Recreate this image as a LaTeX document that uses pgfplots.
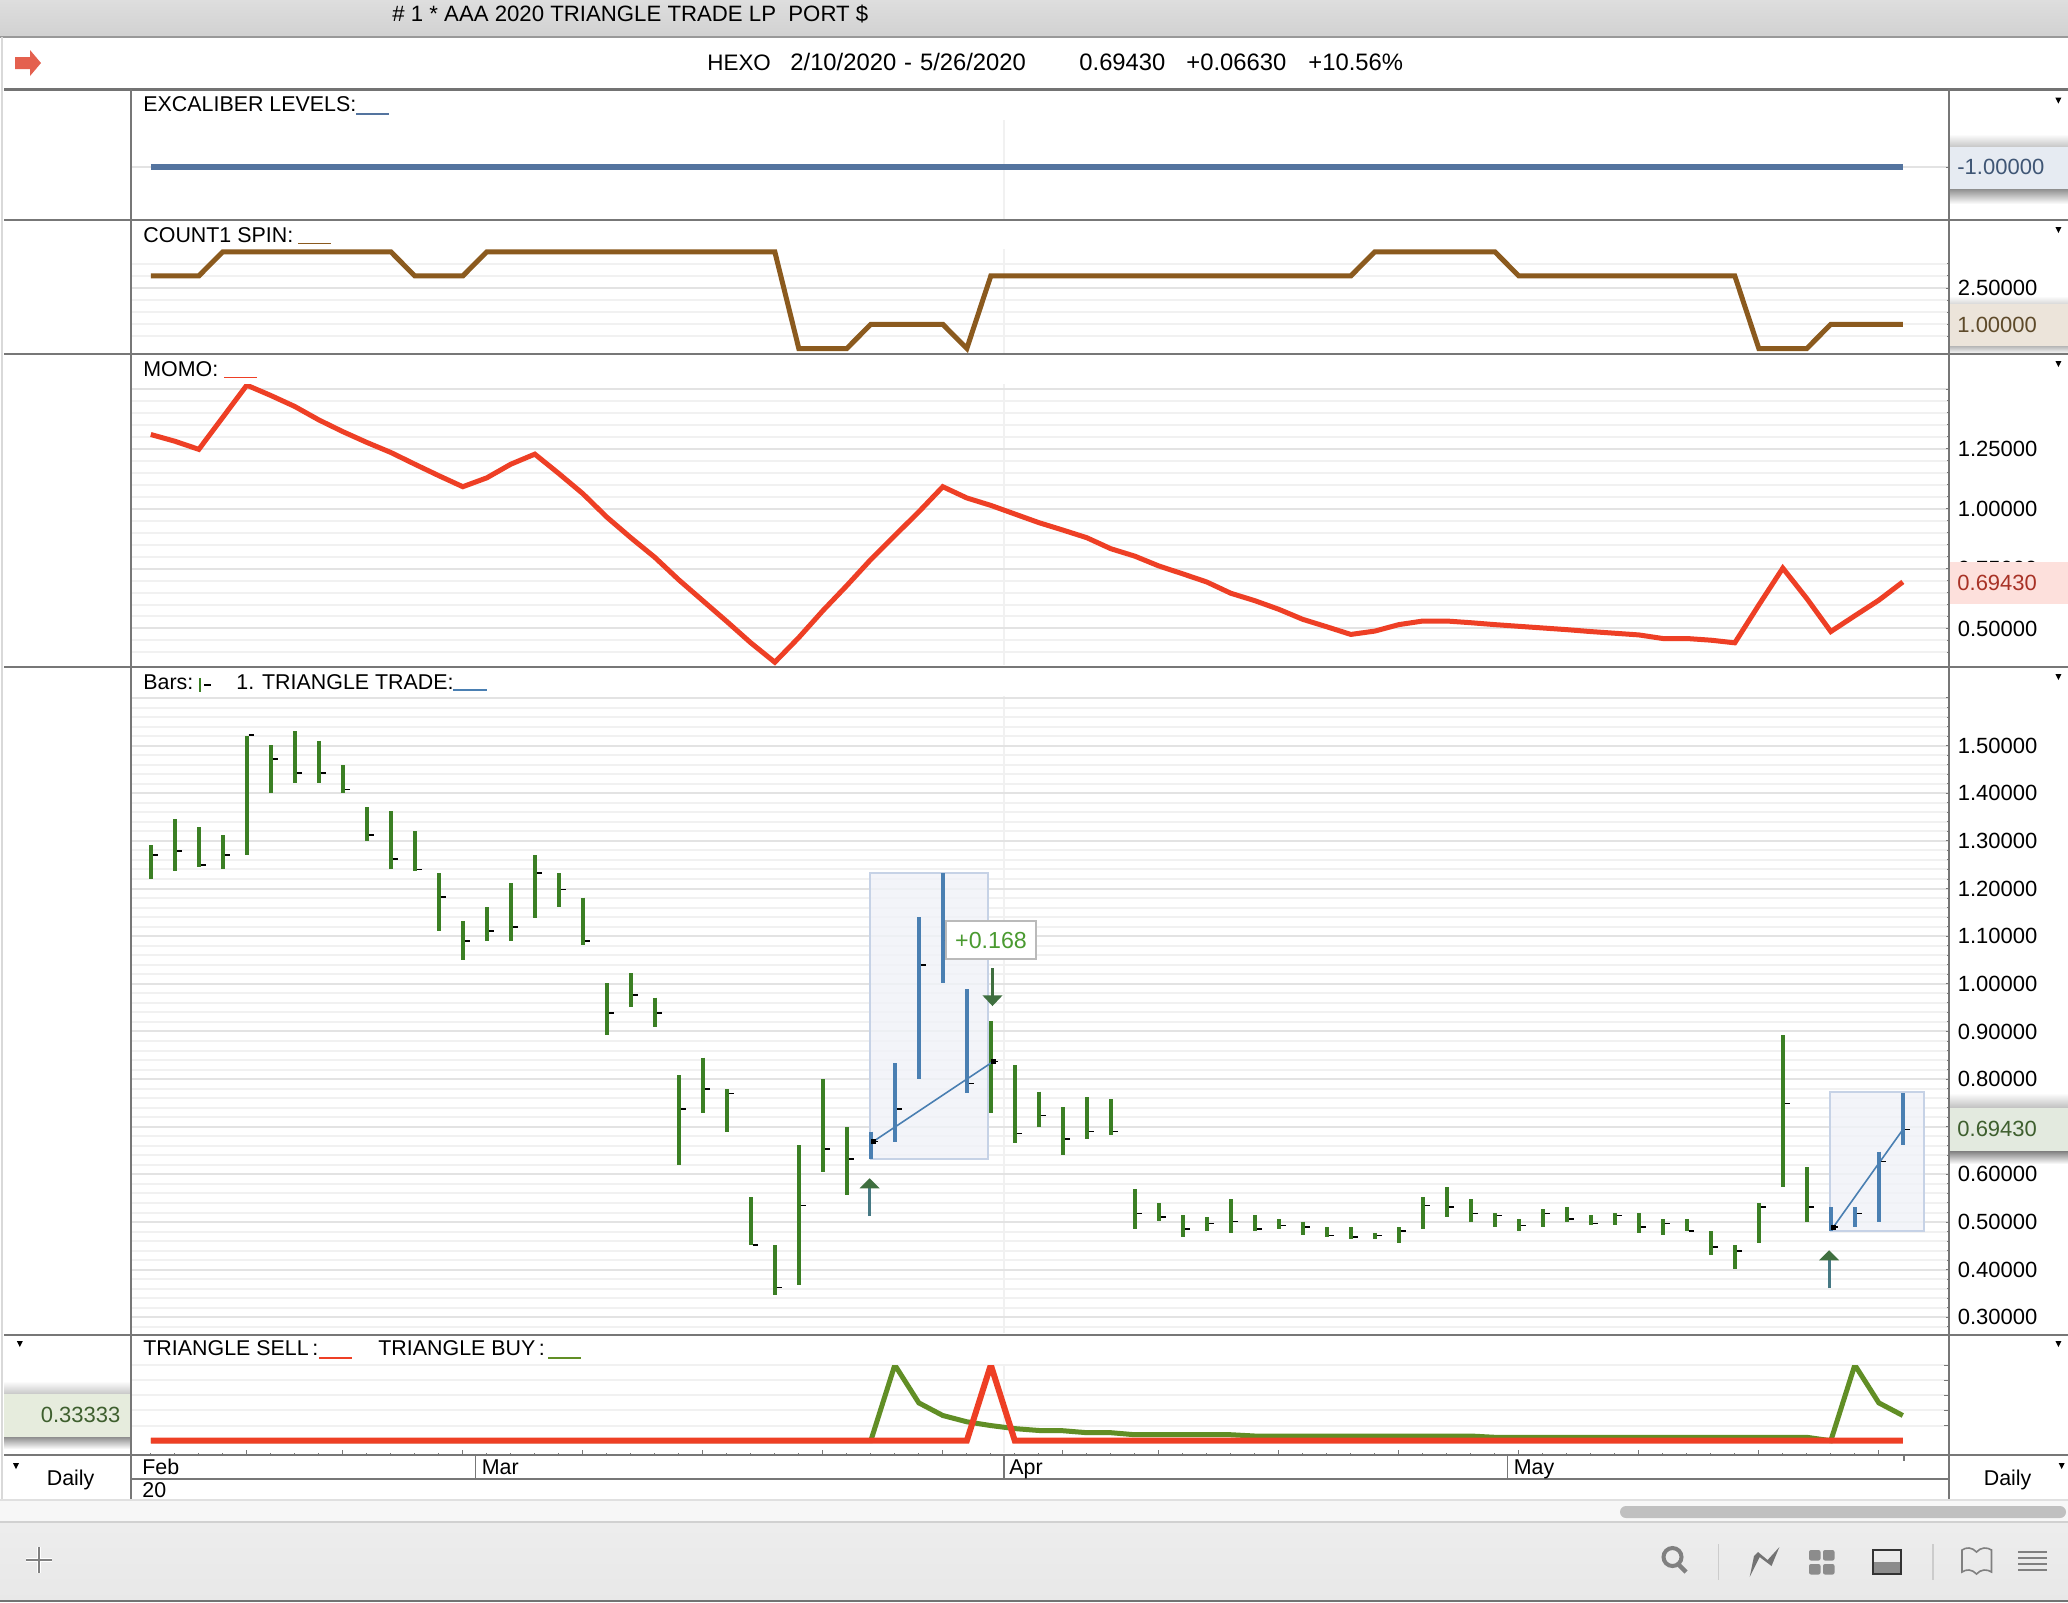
\documentclass[border=0pt]{standalone}
\usepackage{fontspec}
\setmainfont{Liberation Sans}
\usepackage{pgfplots}
\usepackage{pgfplotstable}
\pgfplotsset{compat=1.18}

\definecolor{gridmaj}{HTML}{E3E3E3}
\definecolor{gridmin}{HTML}{F1F1F1}
\definecolor{sep}{HTML}{777777}
\definecolor{lvlblue}{HTML}{54749F}
\definecolor{spinbrown}{HTML}{8B5A1E}
\definecolor{momored}{HTML}{EE3F25}
\definecolor{buygreen}{HTML}{618E25}
\definecolor{bargreen}{HTML}{3B7F24}
\definecolor{barblue}{HTML}{4A7FB2}
\definecolor{arrowgreen}{HTML}{3F6F3F}
\definecolor{regfill}{HTML}{F0F2F8}
\definecolor{regedge}{HTML}{C6D2E6}
\definecolor{boxblue}{HTML}{E6EBF2}
\definecolor{boxbrown}{HTML}{ECE4DA}
\definecolor{boxred}{HTML}{FDE0DC}
\definecolor{boxgreen}{HTML}{E3EADF}
\definecolor{boxgreenb}{HTML}{E6ECDD}
\definecolor{txtblue}{HTML}{3F5675}
\definecolor{txtbrown}{HTML}{5E4A2A}
\definecolor{txtred}{HTML}{A83226}
\definecolor{txtgreen}{HTML}{3E5F2E}
\definecolor{resultgreen}{HTML}{4A9A30}
\definecolor{iconred}{HTML}{E4604E}
\definecolor{scrollgray}{HTML}{C0C0C0}

% i = bar number, one bar per trading day from 2/10/2020
\pgfplotstableread{
i spin momo buy sell
0 3 1.310 0 0
1 3 1.282 0 0
2 3 1.248 0 0
3 4 1.382 0 0
4 4 1.516 0 0
5 4 1.473 0 0
6 4 1.427 0 0
7 4 1.371 0 0
8 4 1.322 0 0
9 4 1.277 0 0
10 4 1.235 0 0
11 3 1.186 0 0
12 3 1.138 0 0
13 3 1.092 0 0
14 4 1.129 0 0
15 4 1.186 0 0
16 4 1.228 0 0
17 4 1.147 0 0
18 4 1.063 0 0
19 4 0.965 0 0
20 4 0.879 0 0
21 4 0.797 0 0
22 4 0.703 0 0
23 4 0.616 0 0
24 4 0.529 0 0
25 4 0.440 0 0
26 4 0.359 0 0
27 0 0.462 0 0
28 0 0.574 0 0
29 0 0.679 0 0
30 1 0.788 0 0
31 1 0.888 1 0
32 1 0.987 0.5 0
33 1 1.092 0.333 0
34 0 1.045 0.25 0
35 3 1.014 0.2 1
36 3 0.978 0.16 0
37 3 0.942 0.135 0
38 3 0.911 0.132 0
39 3 0.879 0.106 0
40 3 0.833 0.106 0
41 3 0.802 0.079 0
42 3 0.761 0.079 0
43 3 0.728 0.079 0
44 3 0.694 0.079 0
45 3 0.647 0.079 0
46 3 0.616 0.062 0
47 3 0.580 0.062 0
48 3 0.538 0.062 0
49 3 0.507 0.062 0
50 3 0.475 0.062 0
51 4 0.489 0.062 0
52 4 0.516 0.062 0
53 4 0.531 0.062 0
54 4 0.531 0.062 0
55 4 0.524 0.062 0
56 4 0.516 0.045 0
57 3 0.509 0.045 0
58 3 0.502 0.045 0
59 3 0.495 0.045 0
60 3 0.487 0.045 0
61 3 0.480 0.045 0
62 3 0.473 0.045 0
63 3 0.458 0.045 0
64 3 0.458 0.045 0
65 3 0.451 0.045 0
66 3 0.440 0.045 0
67 0 0.598 0.045 0
68 0 0.752 0.045 0
69 0 0.625 0.045 0
70 1 0.487 0 0
71 1 0.553 1 0
72 1 0.618 0.5 0
73 1 0.6943 0.333 0
}\series

\pgfplotstableread{
i hi lo cl
0 1.291 1.219 1.270
1 1.345 1.236 1.279
2 1.329 1.245 1.249
3 1.312 1.240 1.270
4 1.521 1.270 1.522
5 1.501 1.400 1.472
6 1.530 1.421 1.443
7 1.510 1.421 1.443
8 1.459 1.400 1.408
9 1.371 1.300 1.312
10 1.362 1.240 1.262
11 1.320 1.236 1.240
12 1.232 1.110 1.182
13 1.132 1.051 1.090
14 1.161 1.090 1.111
15 1.211 1.090 1.119
16 1.270 1.139 1.233
17 1.232 1.161 1.198
18 1.181 1.081 1.090
19 1.001 0.892 0.939
20 1.022 0.951 0.977
21 0.971 0.909 0.939
22 0.808 0.619 0.737
23 0.845 0.728 0.779
24 0.779 0.690 0.770
25 0.552 0.451 0.452
26 0.451 0.346 0.363
27 0.661 0.367 0.535
28 0.800 0.606 0.653
29 0.699 0.556 0.632
35 0.921 0.728 0.837
36 0.829 0.665 0.686
37 0.774 0.699 0.724
38 0.741 0.640 0.674
39 0.762 0.674 0.690
40 0.758 0.682 0.690
41 0.569 0.485 0.518
42 0.539 0.502 0.510
43 0.514 0.468 0.485
44 0.510 0.481 0.497
45 0.548 0.476 0.501
46 0.514 0.481 0.485
47 0.506 0.485 0.493
48 0.501 0.472 0.489
49 0.489 0.468 0.472
50 0.489 0.464 0.468
51 0.476 0.464 0.472
52 0.489 0.455 0.481
53 0.552 0.485 0.535
54 0.573 0.510 0.531
55 0.548 0.501 0.518
56 0.518 0.489 0.514
57 0.506 0.481 0.493
58 0.527 0.489 0.518
59 0.531 0.501 0.506
60 0.514 0.493 0.497
61 0.518 0.493 0.514
62 0.518 0.476 0.489
63 0.506 0.472 0.497
64 0.506 0.481 0.481
65 0.481 0.430 0.447
66 0.451 0.401 0.439
67 0.539 0.455 0.531
68 0.892 0.573 0.749
69 0.615 0.501 0.531
}\greenbars

\pgfplotstableread{
i hi lo cl
30 0.690 0.632 0.669
31 0.833 0.669 0.737
32 1.140 0.800 1.039
33 1.232 1.001 1.090
34 0.989 0.770 0.791
70 0.531 0.481 0.489
71 0.531 0.489 0.518
72 0.648 0.501 0.627
73 0.770 0.661 0.694
}\bluebars

\newcommand{\f}{\fontsize{10.7}{12}\selectfont}
\newcommand{\fn}{\fontsize{11}{12}\selectfont}
\newcommand{\fh}{\fontsize{11.9}{12}\selectfont}
\pgfplotsset{
  panel/.style={
    scale only axis, width=909.2pt,
    xmin=-0.842, xmax=74.925,
    axis line style={draw=none},
    xtick=\empty,
    ytick pos=right, yticklabel pos=right,
    ymajorgrids, yminorgrids,
    major grid style={line width=1pt, draw=gridmaj},
    minor grid style={line width=1pt, draw=gridmin},
    major tick length=1.5pt, minor tick length=1pt,
    tick style={draw=sep, line width=0.5pt},
    yticklabel style={font=\fn, anchor=west, inner sep=0pt, xshift=4.2pt},
  },
  ohlc/.style={draw=none, mark=none, forget plot,
    error bars/.cd, y dir=minus, y explicit, error mark=none,
    error bar style={draw=#1, line width=2pt}},
  closetick/.style={draw=none, mark=none, forget plot,
    error bars/.cd, x dir=plus, x fixed=0.2, error mark=none,
    error bar style={draw=black, line width=0.8pt}},
}
\newcommand{\lab}[3]{\node[anchor=base west,inner sep=0pt,font=\f] at (#1,#2) {#3};}
\newcommand{\hlab}[2]{\node[anchor=base west,inner sep=0pt,font=\fh] at (#1,70.7) {#2};}
\newcommand{\boxval}[4]{\node[anchor=base west,inner sep=0pt,font=\fn,text=#3] at (#1,#2) {#4};}
\newcommand{\tri}[2]{\fill[black] (#1-3,#2-3) -- (#1+3,#2-3) -- (#1,#2+3) -- cycle;}

\begin{document}
\begin{tikzpicture}
\begin{scope}[x=0.5pt,y=-0.5pt]
  \fill[white] (0,0) rectangle (2068,1602);
  % title bar and bottom bar
  \shade[top color=black!13, bottom color=black!18] (0,0) rectangle (2068,37);
  \fill[black!3] (0,1500) rectangle (2068,1522);
  \shade[top color=black!7, bottom color=black!9] (0,1522) rectangle (2068,1601);
  % date grid line
  \foreach \a/\b in {120/219,249/353,384/665,696/1333,1365/1453}
    \draw[gridmin,line width=1pt] (1004,\a) -- (1004,\b);
\end{scope}

% EXCALIBER LEVELS
\begin{axis}[panel, at={(65.3pt,-44.65pt)}, anchor=north west, height=65.5pt,
  ymin=-1.533, ymax=-0.223, ytick={-1}, yticklabels={}]
  \addplot[lvlblue, line width=3pt] coordinates {(0,-1)(73,-1)};
\end{axis}

% COUNT1 SPIN
\begin{axis}[panel, at={(65.3pt,-110.15pt)}, anchor=north west, height=67pt,
  ymin=-0.24, ymax=5.30, ytick={2.5}, yticklabels={2.50000},
  minor ytick={0.5,1,1.5,2,3,3.5}]
  \addplot[spinbrown, line width=2.5pt] table[x=i,y=spin] {\series};
\end{axis}

% MOMO, the line is cut off at the top grid line
\begin{axis}[panel, at={(65.3pt,-192pt)}, anchor=north west, height=141.5pt,
  ymin=0.339, ymax=1.5209, ytick={0.5,0.75,1,1.25,1.5},
  yticklabels={0.50000,0.75000,1.00000,1.25000,},
  minor ytick={0.4,0.45,0.55,0.6,0.65,0.7,0.8,0.85,0.9,0.95,1.05,1.1,1.15,1.2,1.3,1.35,1.4,1.45}]
  \addplot[momored, line width=2.5pt] table[x=i,y=momo] {\series};
\end{axis}

% price bars
\begin{axis}[panel, at={(65.3pt,-333.5pt)}, anchor=north west, height=333.85pt,
  ymin=0.2635, ymax=1.665,
  ytick={0.3,0.4,0.5,0.6,0.7,0.8,0.9,1.0,1.1,1.2,1.3,1.4,1.5,1.6},
  yticklabels={0.30000,0.40000,0.50000,0.60000,0.70000,0.80000,0.90000,1.00000,1.10000,1.20000,1.30000,1.40000,1.50000,},
  minor ytick={0.28,0.32,0.34,0.36,0.38,0.42,0.44,0.46,0.48,0.52,0.54,0.56,0.58,0.62,0.64,0.66,0.68,0.72,0.74,0.76,0.78,0.82,0.84,0.86,0.88,0.92,0.94,0.96,0.98,1.02,1.04,1.06,1.08,1.12,1.14,1.16,1.18,1.22,1.24,1.26,1.28,1.32,1.34,1.36,1.38,1.42,1.44,1.46,1.48,1.52,1.54,1.56,1.58}]
  % trade regions
  \addplot[fill=regfill, fill opacity=0.8, draw=regedge, line width=1pt, forget plot]
    coordinates {(29.95,0.632)(29.95,1.233)(34.89,1.233)(34.89,0.632)(29.95,0.632)};
  \addplot[fill=regfill, fill opacity=0.8, draw=regedge, line width=1pt, forget plot]
    coordinates {(69.96,0.4805)(69.96,0.772)(73.9,0.772)(73.9,0.4805)(69.96,0.4805)};
  % high-low bars and closes
  \addplot[ohlc=bargreen] table[x=i,y=hi,y error expr=\thisrow{hi}-\thisrow{lo}] {\greenbars};
  \addplot[ohlc=barblue] table[x=i,y=hi,y error expr=\thisrow{hi}-\thisrow{lo}] {\bluebars};
  \addplot[closetick] table[x expr=\thisrow{i}+0.08,y=cl] {\greenbars};
  \addplot[closetick] table[x expr=\thisrow{i}+0.08,y=cl] {\bluebars};
  % trade lines
  \addplot[barblue, line width=0.8pt, mark=square*, mark size=0.9pt,
    mark options={black}] coordinates {(30.1,0.669)(35.1,0.837)};
  \addplot[barblue, line width=0.8pt, mark=square*, mark size=0.9pt, mark indices={1},
    mark options={black}] coordinates {(70.1,0.489)(73.0,0.694)};
  % entry and exit arrows
  \addplot[barblue!60!arrowgreen, line width=1.5pt] coordinates {(29.95,0.5126)(29.95,0.575)};
  \addplot[fill=arrowgreen, draw=none] coordinates {(29.53,0.5708)(29.95,0.5918)(30.37,0.5708)(29.53,0.5708)};
  \addplot[arrowgreen, line width=1.5pt] coordinates {(35.07,1.0326)(35.07,0.975)};
  \addplot[fill=arrowgreen, draw=none] coordinates {(34.65,0.9759)(35.07,0.9534)(35.49,0.9759)(34.65,0.9759)};
  \addplot[barblue!60!arrowgreen, line width=1.5pt] coordinates {(69.93,0.3615)(69.93,0.42)};
  \addplot[fill=arrowgreen, draw=none] coordinates {(69.51,0.4196)(69.93,0.4406)(70.35,0.4196)(69.51,0.4196)};
\end{axis}

% TRIANGLE SELL / BUY, cut off at 1
\begin{axis}[panel, at={(65.3pt,-682.5pt)}, anchor=north west, height=44.85pt,
  ymin=-0.185, ymax=1, ytick={0.2,0.4,0.6,0.8,1}, yticklabels={},
  xtick={4,8,13,18,23,28,33,38,42,47,52,57,62,67,72},
  minor xtick={0,1,2,3,5,6,7,9,10,11,12,14,15,16,17,19,20,21,22,24,25,26,27,29,30,31,32,34,35,36,37,39,40,41,43,44,45,46,48,49,50,51,53,54,55,56,58,59,60,61,63,64,65,66,68,69,70,71},
  xticklabels={}, xtick pos=bottom, xtick align=inside,
  ymajorgrids, yminorgrids=false, xmajorgrids=false, xminorgrids=false,
  major grid style={line width=1pt, draw=gridmin},
  major tick length=2.5pt, minor tick length=1pt]
  \addplot[buygreen, line width=2.5pt] table[x=i,y=buy] {\series};
  \addplot[momored, line width=3pt] table[x=i,y=sell] {\series};
\end{axis}

\begin{scope}[x=0.5pt,y=-0.5pt]
  % value boxes with their shadows
  \shade[top color=white, bottom color=black!22] (1950,134) rectangle (2068,146.6);
  \shade[top color=black!45, bottom color=white] (1950,188.6) rectangle (2068,204);
  \fill[boxblue] (1950,146.6) rectangle (2068,188.6);
  \shade[top color=white, bottom color=black!15] (1950,296) rectangle (2068,303.6);
  \shade[top color=black!30, bottom color=white] (1950,345.6) rectangle (2068,354);
  \fill[boxbrown] (1950,303.6) rectangle (2068,345.6);
  \fill[boxred] (1950,561.6) rectangle (2068,603.6);
  \shade[top color=white, bottom color=black!25] (1950,1093) rectangle (2068,1108);
  \shade[top color=black!50, bottom color=white] (1950,1151) rectangle (2068,1164);
  \fill[boxgreen] (1950,1108) rectangle (2068,1151);
  \shade[top color=white, bottom color=black!22] (4,1381) rectangle (129.5,1394);
  \shade[top color=black!45, bottom color=white] (4,1436.7) rectangle (129.5,1449);
  \fill[boxgreenb] (4,1394) rectangle (129.5,1436.7);

  % panel rules
  \foreach \y in {220.3,354.3,667,1334.7,1454.7}
    \draw[sep,line width=1pt] (4,\y) -- (2068,\y);
  \draw[black!55,line width=1.2pt] (4,89.3) -- (2068,89.3);
  \draw[black!40,line width=1.2pt] (0,37) -- (2068,37);
  \draw[sep,line width=1pt] (130.6,89.3) -- (130.6,1500);
  \draw[sep,line width=1pt] (1949,89.3) -- (1949,1500);
  \draw[sep,line width=1pt] (131,1479) -- (1949,1479);
  \draw[black!15,line width=0.8pt] (2,37) -- (2,1500);
  \draw[black!12,line width=1pt] (0,1500) -- (2068,1500);
  \draw[black!18,line width=1pt] (0,1522) -- (2068,1522);
  \draw[black!55,line width=0.6pt] (0,1601) -- (2068,1601);
  \foreach \x in {475.6,1004,1507.6}
    \draw[sep,line width=0.7pt] (\x,1455) -- (\x,1479);
  \draw[sep,line width=0.7pt] (1904,1455) -- (1904,1461);

  % heading texts
  \node[anchor=base west,inner sep=0pt,font=\fontsize{11.1}{12}\selectfont] at (392,21.7)
    {\# 1 * AAA 2020 TRIANGLE TRADE LP\ \ PORT \$};
  \node[anchor=base west,inner sep=0pt,font=\fontsize{11.2}{12}\selectfont] at (707,70.7) {HEXO};
  \hlab{790}{2/10/2020\,\,-\,\,5/26/2020}
  \hlab{1079}{0.69430}
  \hlab{1186}{+0.06630}
  \hlab{1308}{+10.56\%}
  \fill[iconred] (15,57) -- (30,57) -- (30,50) -- (41,63) -- (30,76) -- (30,69) -- (15,69) -- cycle;

  % panel labels and their colour keys
  \lab{143}{111.9}{EXCALIBER LEVELS:}
  \draw[lvlblue,line width=0.7pt] (356,114) -- (389,114);
  \lab{143}{242}{COUNT1 SPIN:}
  \draw[spinbrown,line width=0.7pt] (298,243.7) -- (331,243.7);
  \lab{143}{376}{MOMO:}
  \draw[momored,line width=0.7pt] (224,377.7) -- (257,377.7);
  \lab{143}{689}{Bars:}
  \draw[bargreen,line width=0.6pt] (200,678) -- (200,692);
  \draw[black,line width=0.6pt] (204,685) -- (211,685);
  \lab{236}{689}{1. TRIANGLE TRADE:}
  \draw[barblue,line width=0.7pt] (453,690) -- (486.5,690);
  \lab{143}{1355.7}{TRIANGLE SELL\,:}
  \draw[momored,line width=0.7pt] (319,1358) -- (352,1358);
  \lab{378}{1355.7}{TRIANGLE BUY\,:}
  \draw[buygreen,line width=0.7pt] (548,1358) -- (581,1358);

  % values in the boxes
  \boxval{1957}{174.8}{txtblue}{-1.00000}
  \boxval{1957}{332.6}{txtbrown}{1.00000}
  \boxval{1957}{590.6}{txtred}{0.69430}
  \boxval{1957}{1136.3}{txtgreen}{0.69430}
  \node[anchor=base east,inner sep=0pt,font=\fn,text=txtgreen] at (120.7,1422.3) {0.33333};

  % trade result
  \node[draw=black!27,line width=1pt,fill=white,minimum width=45pt,minimum height=18.8pt,inner sep=0pt,
    font=\fontsize{11.6}{12}\selectfont,text=resultgreen] at (991,940) {+0.168};

  % time row
  \lab{142}{1474}{Feb}
  \lab{481.5}{1474}{Mar}
  \lab{1009}{1474}{Apr}
  \lab{1513.5}{1474}{May}
  \lab{142}{1497}{20}
  \node[anchor=base,inner sep=0pt,font=\f] at (70.6,1485.7) {Daily};
  \node[anchor=base,inner sep=0pt,font=\f] at (2007.6,1485.7) {Daily};

  % small menu triangles
  \tri{2058.4}{100.6}\tri{2058.4}{230}\tri{2058.4}{364}\tri{2058.4}{677}\tri{2058.4}{1344}
  \tri{19.8}{1344}\tri{16}{1466}\tri{2061.7}{1466}

  % scroll bar and tool icons
  \fill[scrollgray,rounded corners=3pt] (1620,1506) rectangle (2066,1518);
  \draw[white,line width=2pt] (39,1547) -- (39,1573) (26,1560) -- (52,1560);
  \draw[black!50,line width=1pt] (39,1547) -- (39,1573) (26,1560) -- (52,1560);
  \draw[black!50,line width=2pt] (1672.5,1557) circle (9);
  \draw[black!50,line width=2.2pt] (1678,1564) -- (1686,1572);
  \draw[black!20,line width=0.6pt] (1718.7,1544) -- (1718.7,1580) (1933,1544) -- (1933,1580);
  \fill[black!55] (1779.4,1547) -- (1771.5,1566) -- (1759.6,1557) -- (1749.7,1577) -- (1754,1556) -- (1758,1552) -- (1767.6,1560) -- cycle;
  \foreach \a/\b in {1809/1550,1823/1550,1809/1564,1823/1564}
    \fill[black!45,rounded corners=1pt] (\a,\b) rectangle (\a+11.5,\b+10.5);
  \fill[black!45] (1873,1562) rectangle (1901,1574);
  \draw[black!80,line width=1pt] (1873,1550) rectangle (1901,1574);
  \draw[black!50,line width=0.8pt] (1976.5,1552) .. controls (1972,1547) and (1966,1547) .. (1962,1550)
    -- (1962,1572) .. controls (1966,1569) and (1972,1569) .. (1976.5,1574)
    .. controls (1981,1569) and (1987,1569) .. (1991.5,1572) -- (1991.5,1550)
    .. controls (1987,1547) and (1981,1547) .. (1976.5,1552) -- cycle;
  \foreach \y in {1552,1558,1564,1570}
    \draw[black!50,line width=1pt] (2018,\y) -- (2046.5,\y);

  % the page is exactly the window, rule ends must not widen it
  \pgfresetboundingbox
  \path[use as bounding box] (0,0) rectangle (2068,1602);
\end{scope}
\end{tikzpicture}
\end{document}
